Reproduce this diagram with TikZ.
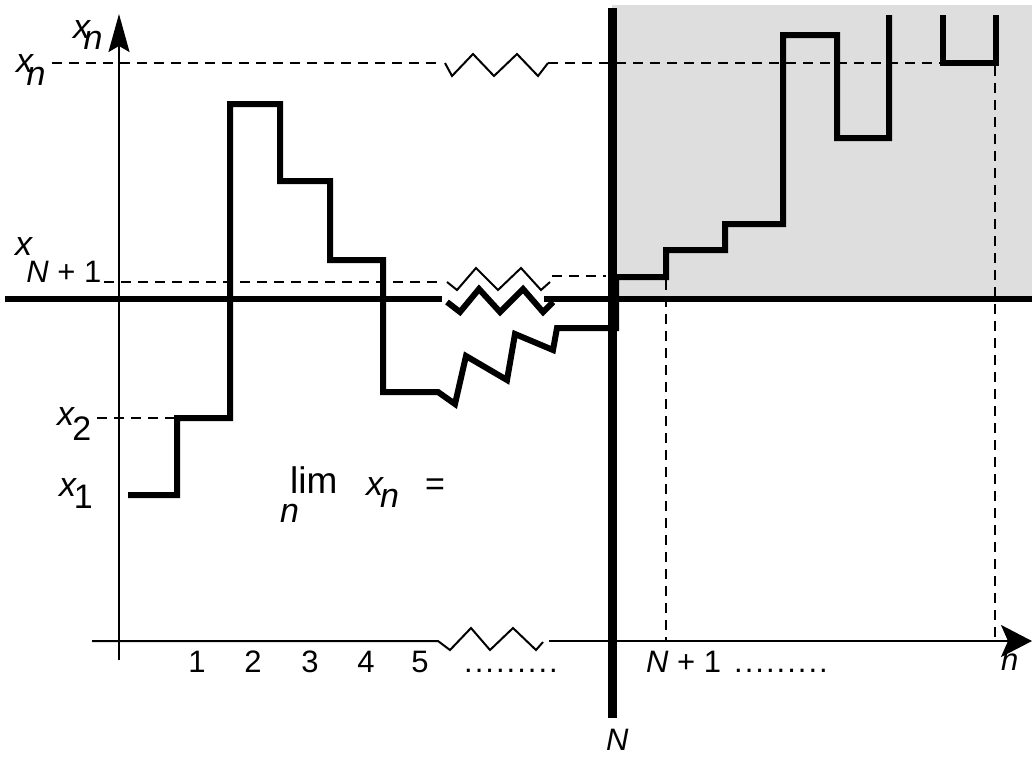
\documentclass[tikz,border=0pt]{standalone}
\usepackage{fontspec}
\setmainfont{Liberation Sans}
\usetikzlibrary{arrows.meta}
\newcommand\lbl[4]{\textit{#3}\kern#1\raisebox{#2}{#4}}
\begin{document}
\begin{tikzpicture}[x=1pt,y=-1pt,
  lab/.style={inner sep=0pt,font=\fontsize{31}{36}\selectfont},
  xlab/.style={inner sep=0pt,font=\fontsize{34}{40}\selectfont},
  limlab/.style={inner sep=0pt,font=\fontsize{37}{44}\selectfont},
  stair/.style={line width=6pt, line join=miter, line cap=butt},
  axisline/.style={line width=2pt},
  guide/.style={line width=2pt, dash pattern=on 10pt off 7pt},
  zzthin/.style={line width=2pt, line join=miter},
  zzthick/.style={line width=6pt, line join=miter},
  shade/.style={fill=black!13, draw=none},
]
\useasboundingbox (0,0) rectangle (1032,756);
% shaded region
\fill[shade] (612,5) rectangle (1032,299);

% guide lines
\coordinate (gxnL) at (52,63);
\coordinate (gxnA) at (440,63);
\coordinate (gxnB) at (548,63);
\coordinate (gxnR) at (943,63);
\draw[guide] (gxnL) -- (gxnA);
\draw[guide] (gxnB) -- (gxnR);
\draw[zzthin] (445,63) -- (452,76) -- (473,54) -- (494,76) -- (517,54) -- (538,76) -- (548,63);

\coordinate (gNL) at (104,282);
\coordinate (gNA) at (440,282);
\coordinate (gNB) at (552,276);
\coordinate (gNR) at (606,276);
\draw[guide] (gNL) -- (gNA);
\draw[guide] (gNB) -- (gNR);
\draw[zzthin] (447,282) -- (457,290) -- (476,268) -- (498,290) -- (521,268) -- (541,290) -- (550,282);

\coordinate (g2L) at (97,418);
\coordinate (g2R) at (177,418);
\draw[guide] (g2L) -- (g2R);

\coordinate (v1T) at (666,280);
\coordinate (v1B) at (666,641);
\coordinate (v2T) at (995,66);
\coordinate (v2B) at (995,641);
\draw[guide] (v1T) -- (v1B);
\draw[guide] (v2T) -- (v2B);

% thick horizontal level line
\coordinate (hL) at (5,299);
\coordinate (hA) at (442,299);
\coordinate (hB) at (544,299);
\coordinate (hR) at (1032,299);
\draw[zzthick] (hL) -- (hA);
\draw[zzthick] (hB) -- (hR);
\draw[zzthick] (447,302) -- (460,312) -- (479,289) -- (500,312) -- (523,289) -- (543,312) -- (553,302);

% axes
\coordinate (yB) at (119,660);
\coordinate (yT) at (119,14);
\draw[axisline, -{Stealth[length=38pt,width=21pt,inset=6pt]}] (yB) -- (yT);
\coordinate (xL) at (92,641);
\coordinate (xA) at (438,641);
\coordinate (xB) at (549,641);
\coordinate (xR) at (1032,641);
\draw[axisline] (xL) -- (xA) -- (450,650) -- (471,628) -- (490,650) -- (513,628) -- (536,650) -- (543,642);
\draw[axisline, -{Stealth[length=31pt,width=32pt,inset=7pt]}] (xB) -- (xR);

% sequence staircase
\draw[stair] (128,495) -- (177,495) -- (177,418) -- (230,418) -- (230,104) -- (280,104)
  -- (280,181) -- (330,181) -- (330,260) -- (383,260) -- (383,392) -- (438,392)
  -- (455,404) -- (466,356) -- (507,380) -- (515,334) -- (553,350) -- (557,328)
  -- (616,328) -- (616,277) -- (666,277) -- (666,250) -- (725,250) -- (725,224)
  -- (783,224) -- (783,35) -- (837,35) -- (837,138) -- (889,138) -- (889,15);
\draw[stair] (943,15) -- (943,63) -- (996,63) -- (996,15);

% N line
\coordinate (NT) at (612,8);
\coordinate (NB) at (612,718);
\draw[line width=9pt] (NT) -- (NB);

% labels on y axis
\node[xlab, anchor=base west] (lxnax) at (73,38) {\lbl{-0.22em}{-11pt}{x}{\textit{n}}};
\node[xlab, anchor=base west] (lxn) at (16,72) {\lbl{-0.22em}{-13pt}{x}{\textit{n}}};
\node[xlab, anchor=base west] (lxN) at (15,255) {\lbl{-0.2em}{-27pt}{x}{\fontsize{31}{36}\selectfont\textit{N} + 1}};
\node[xlab, anchor=base west] (lx2) at (57,425) {\lbl{-0.08em}{-15pt}{x}{2}};
\node[xlab, anchor=base west] (lx1) at (59,496) {\lbl{-0.1em}{-12pt}{x}{1}};

% limit text
\node[limlab, anchor=base west] (llim) at (290,493) {lim};
\node[xlab, anchor=base west] (llimn) at (280,522) {\textit{n}};
\node[xlab, anchor=base west] (llimx) at (366,495) {\lbl{-0.12em}{-12pt}{x}{\textit{n}}};
\node[xlab, anchor=base west] (leq) at (425,495) {=};

% ticks on n axis
\node[lab, anchor=base] (t1) at (197,672) {1};
\node[lab, anchor=base] (t2) at (253,672) {2};
\node[lab, anchor=base] (t3) at (310,672) {3};
\node[lab, anchor=base] (t4) at (366,672) {4};
\node[lab, anchor=base] (t5) at (420,672) {5};
\node[lab, anchor=base west] (d1) at (464,672) {.\kern2pt.\kern2pt.\kern2pt.\kern2pt.\kern2pt.\kern2pt.\kern2pt.\kern2pt.};
\node[lab, anchor=base west] (tN1) at (646,672) {\textit{N} + 1};
\node[lab, anchor=base west] (d2) at (734,672) {.\kern2pt.\kern2pt.\kern2pt.\kern2pt.\kern2pt.\kern2pt.\kern2pt.\kern2pt.};
\node[lab, anchor=base west] (ln) at (1001,670) {\textit{n}};
\node[lab, anchor=base west] (lN) at (606,750) {\textit{N}};
\end{tikzpicture}
\end{document}
